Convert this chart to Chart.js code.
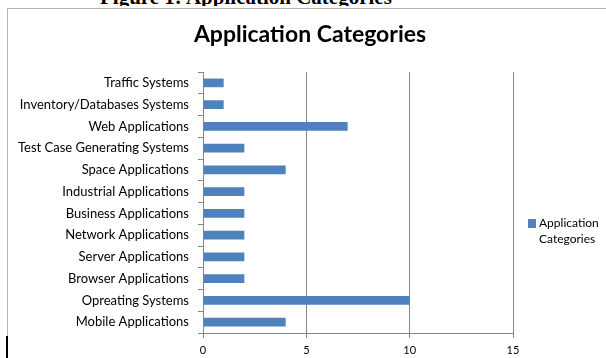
<!DOCTYPE html>
<html>
<head>
<meta charset="utf-8">
<script src="https://cdn.jsdelivr.net/npm/chart.js@4.4.1/dist/chart.umd.min.js"></script>
<style>
    html, body { margin: 0; padding: 0; background: #fff; overflow: hidden; }
    body { width: 606px; height: 358px; position: relative; }
    #captionClip {
        position: absolute; left: 0; top: 0; width: 606px; height: 6px; overflow: hidden;
    }
    #caption {
        position: absolute; left: 100px; top: -15px;
        font: bold 21px "Liberation Serif", serif; color: #000; white-space: nowrap;
    }
    #frame {
        position: absolute; left: 7px; top: 8px; width: 700px; height: 400px;
        border-left: 1px solid #b4b4b4; border-top: 1px solid #b4b4b4;
    }
    #cursor { position: absolute; left: 6px; top: 336px; width: 2px; height: 22px; background: #000; }
    #wrap { position: absolute; left: 0; top: 0; width: 606px; height: 358px; }
</style>
</head>
<body>
<div id="captionClip"><div id="caption">Figure 1: Application Categories</div></div>
<div id="frame"></div>
<div id="cursor"></div>
<div id="wrap"><canvas id="appChart"></canvas></div>
<script>
// Categories listed top to bottom
const categories = [
    'Traffic Systems',
    'Inventory/Databases Systems',
    'Web Applications',
    'Test Case Generating Systems',
    'Space Applications',
    'Industrial Applications',
    'Business Applications',
    'Network Applications',
    'Server Applications',
    'Browser Applications',
    'Opreating Systems',
    'Mobile Applications'
];
const counts = [1, 1, 7, 2, 4, 2, 2, 2, 2, 2, 10, 4];
const xTicks = [0, 5, 10, 15];
const chartTitle = 'Application Categories';
const seriesName = ['Application', 'Categories'];

const FONT = 'Lato';
const BAR_BLUE = '#4F81BD';
const GRID_GREY = '#868686';

// Title and legend drawn by hand: the title is centred on the whole frame
// and the legend label wraps onto two lines
const chartDecor = {
    id: 'chartDecor',
    afterDraw(chart) {
        const ctx = chart.ctx;
        const area = chart.chartArea;
        ctx.save();
        ctx.fillStyle = '#000';
        ctx.font = 'bold 23px ' + FONT;
        ctx.textAlign = 'center';
        ctx.textBaseline = 'alphabetic';
        ctx.fillText(chartTitle, 310, 42);

        const x = area.right + 15;
        const y = 219;
        ctx.fillStyle = BAR_BLUE;
        ctx.fillRect(x, y, 8, 9);
        ctx.fillStyle = '#000';
        ctx.font = '12px ' + FONT;
        ctx.textBaseline = 'middle';
        ctx.textAlign = 'left';
        seriesName.forEach((line, i) => {
            ctx.fillText(line, x + 11, y + 4 + i * 16);
        });
        ctx.restore();
    }
};

const ctx = document.getElementById('appChart').getContext('2d');
new Chart(ctx, {
    type: 'bar',
    data: {
        labels: categories,
        datasets: [{
            label: seriesName.join(' '),
            data: counts,
            backgroundColor: BAR_BLUE,
            borderWidth: 0,
            categoryPercentage: 0.8,
            barPercentage: 0.5
        }]
    },
    options: {
        indexAxis: 'y',
        responsive: true,
        maintainAspectRatio: false,
        animation: false,
        layout: {
            padding: { left: 0, right: 93, top: 72, bottom: 0 }
        },
        plugins: {
            legend: { display: false },
            tooltip: { enabled: false },
            title: { display: false }
        },
        scales: {
            x: {
                min: 0,
                max: 15,
                afterBuildTicks: scale => {
                    scale.ticks = xTicks.map(v => ({ value: v }));
                },
                afterFit: scale => { scale.height = 25; },
                grid: {
                    color: GRID_GREY,
                    lineWidth: 1,
                    drawTicks: true,
                    tickLength: 5
                },
                border: { color: GRID_GREY },
                ticks: {
                    color: '#000',
                    padding: 6,
                    font: { family: FONT, size: 11 }
                }
            },
            y: {
                afterFit: scale => { scale.width = 203; },
                grid: {
                    drawOnChartArea: false,
                    drawTicks: true,
                    tickLength: 5,
                    color: GRID_GREY
                },
                border: { color: GRID_GREY },
                ticks: {
                    color: '#000',
                    padding: 9,
                    autoSkip: false,
                    font: { family: FONT, size: 13 }
                }
            }
        }
    },
    plugins: [chartDecor]
});
</script>
</body>
</html>
